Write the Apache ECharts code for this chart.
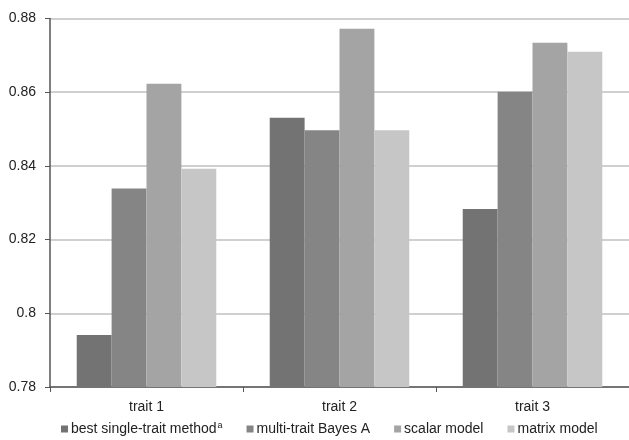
<!DOCTYPE html>
<html>
<head>
<meta charset="utf-8">
<script src="https://cdn.jsdelivr.net/npm/echarts@6/dist/echarts.min.js"></script>
<style>html,body{margin:0;padding:0;background:#fff}#c{width:629px;height:440px}</style>
</head>
<body>
<div id="c"></div>
<script>
const categories = ['trait 1', 'trait 2', 'trait 3'];
const seriesNames = ['best single-trait method', 'multi-trait Bayes A', 'scalar model', 'matrix model'];
const bestSingle = [0.7941, 0.8531, 0.8283];
const multiBayesA = [0.8339, 0.8497, 0.8601];
const scalarModel = [0.8623, 0.8772, 0.8734];
const matrixModel = [0.8392, 0.8497, 0.8710];
const yTicks = [0.78, 0.80, 0.82, 0.84, 0.86, 0.88];
const colors = ['#737373', '#858585', '#a4a4a4', '#c6c6c6'];

const values = [bestSingle, multiBayesA, scalarModel, matrixModel];
const font = 'Liberation Sans, Arial, sans-serif';

const chart = echarts.init(document.getElementById('c'), null, {renderer: 'canvas'});
chart.setOption({
  animation: false,
  backgroundColor: '#ffffff',
  textStyle: {fontFamily: font},
  grid: {left: 50, top: 18.5, width: 585, height: 368.5, containLabel: false},
  legend: {
    left: 56, top: 416,
    icon: 'rect', itemWidth: 7, itemHeight: 7, itemGap: 24,
    textStyle: {
      fontFamily: font, fontSize: 14, color: '#222',
      padding: [0, 0, 0, -2],
      rich: {
        t: {fontFamily: font, fontSize: 14, color: '#222'},
        sup: {fontFamily: font, fontSize: 9, color: '#222', padding: [0, 0, 7, 1]}
      }
    },
    formatter: function (name) {
      if (name === seriesNames[0]) return '{t|' + name + '}{sup|a}';
      return name;
    },
    data: seriesNames
  },
  xAxis: {
    type: 'category',
    data: categories,
    axisLine: {lineStyle: {color: '#555', width: 1.5}},
    axisTick: {show: true, length: 5, lineStyle: {color: '#555'}},
    axisLabel: {fontFamily: font, fontSize: 14, color: '#222', margin: 13}
  },
  yAxis: {
    type: 'value',
    min: yTicks[0], max: yTicks[yTicks.length - 1], interval: 0.02,
    axisLine: {show: true, lineStyle: {color: '#555', width: 1.5}},
    axisTick: {show: true, length: 5, lineStyle: {color: '#555'}},
    splitLine: {lineStyle: {color: '#c0c0c0', width: 1.5}},
    axisLabel: {
      fontFamily: font, fontSize: 14, color: '#222', margin: 14,
      formatter: function (v) { return String(parseFloat(v.toFixed(2))); }
    }
  },
  series: seriesNames.map(function (n, i) {
    return {
      name: n, type: 'bar', data: values[i],
      barGap: '0%', barCategoryGap: '27.7%',
      itemStyle: {color: colors[i]}
    };
  })
});
</script>
</body>
</html>
